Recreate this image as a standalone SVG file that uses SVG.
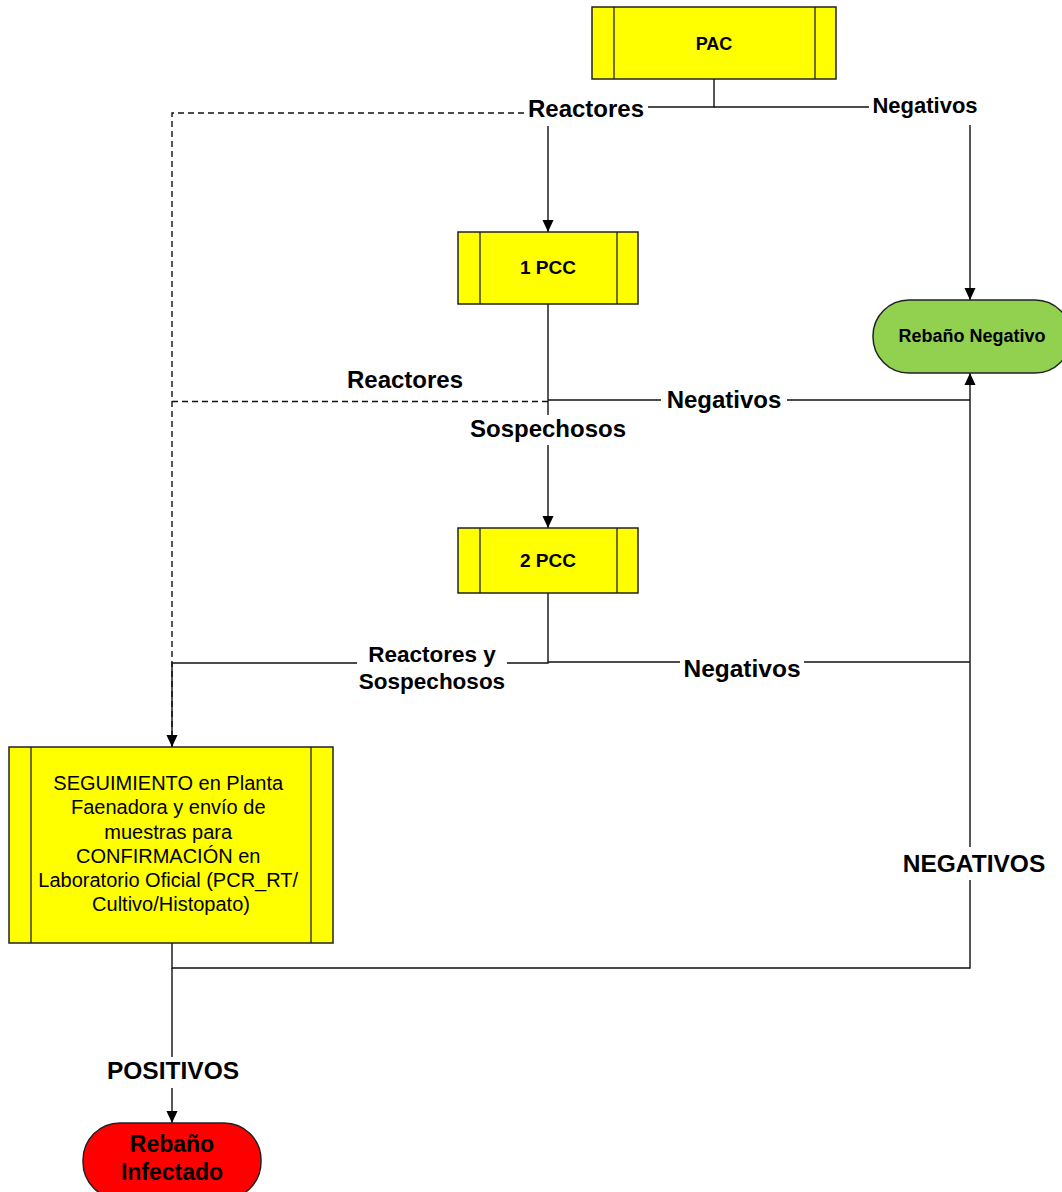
<svg xmlns="http://www.w3.org/2000/svg" width="1062" height="1192" viewBox="0 0 1062 1192">
<defs>
<marker id="arr" markerWidth="12" markerHeight="14" refX="13" refY="6" orient="auto" markerUnits="userSpaceOnUse" viewBox="0 0 13 12">
<path d="M0,0 L13,6 L0,12 z" fill="#000"/>
</marker>
<style>
.box{fill:#FFFF00;stroke:#222;stroke-width:1.5}
.bar{stroke:#222;stroke-width:1.3}
.ln{fill:none;stroke:#111;stroke-width:1.4}
.dash{fill:none;stroke:#111;stroke-width:1.4;stroke-dasharray:6 4}
.nt{font-family:"Liberation Sans",Arial,sans-serif;font-weight:bold;text-anchor:middle;fill:#000}
.lb{font-family:"Liberation Sans",Arial,sans-serif;font-weight:bold;text-anchor:middle;fill:#000}
.bg{fill:#fff}
</style>
</defs>
<rect width="1062" height="1192" fill="#fff"/>
<g id="connectors">
<path class="ln" d="M714,79 V107 H548 V232" marker-end="url(#arr)"/>
<path class="ln" d="M714,107 H970 V300" marker-end="url(#arr)"/>
<path class="dash" d="M524,113 H172 V747"/>
<path class="ln" d="M548,304 V528" marker-end="url(#arr)"/>
<path class="ln" d="M548,400 H970"/>
<path class="dash" d="M548,401.5 H172"/>
<path class="ln" d="M548,593 V663 H172 V747" marker-end="url(#arr)"/>
<path class="ln" d="M548,662 H970"/>
<path class="ln" d="M172,943 V968 H970 V373" marker-end="url(#arr)"/>
<path class="ln" d="M172,968 V1123" marker-end="url(#arr)"/>
<rect class="bg" x="524" y="95" width="124" height="31"/>
<text class="lb" x="586" y="117" font-size="24">Reactores</text>
<rect class="bg" x="869" y="92" width="113" height="33"/>
<text class="lb" x="925" y="113" font-size="22">Negativos</text>
<text class="lb" x="405" y="388" font-size="24">Reactores</text>
<rect class="bg" x="464" y="415" width="168" height="30"/>
<text class="lb" x="548" y="437" font-size="24">Sospechosos</text>
<rect class="bg" x="661" y="388" width="126" height="26"/>
<text class="lb" x="724" y="408" font-size="24">Negativos</text>
<rect class="bg" x="357" y="642" width="150" height="52"/>
<text class="lb" x="432" y="662" font-size="22.5">Reactores y</text>
<text class="lb" x="432" y="689" font-size="22.5">Sospechosos</text>
<rect class="bg" x="680" y="652" width="124" height="30"/>
<text class="lb" x="742" y="677" font-size="24.5">Negativos</text>
<rect class="bg" x="899" y="847" width="151" height="33"/>
<text class="lb" x="974" y="872" font-size="24.5">NEGATIVOS</text>
<rect class="bg" x="103" y="1057" width="140" height="31"/>
<text class="lb" x="173" y="1079" font-size="24.5">POSITIVOS</text>
</g>
<g id="pac">
<rect class="box" x="592" y="7" width="244" height="72"/>
<line class="bar" x1="614" y1="7" x2="614" y2="79"/>
<line class="bar" x1="815" y1="7" x2="815" y2="79"/>
<text class="nt" x="714" y="50" font-size="18">PAC</text>
</g>
<g id="pcc1">
<rect class="box" x="458" y="232" width="180" height="72"/>
<line class="bar" x1="480" y1="232" x2="480" y2="304"/>
<line class="bar" x1="617" y1="232" x2="617" y2="304"/>
<text class="nt" x="548" y="274" font-size="19">1 PCC</text>
</g>
<g id="pcc2">
<rect class="box" x="458" y="528" width="180" height="65"/>
<line class="bar" x1="480" y1="528" x2="480" y2="593"/>
<line class="bar" x1="617" y1="528" x2="617" y2="593"/>
<text class="nt" x="548" y="567" font-size="19">2 PCC</text>
</g>
<g id="rebano-negativo">
<rect x="873" y="300" width="198" height="73" rx="36" ry="36" fill="#92D050" stroke="#222" stroke-width="1.5"/>
<text class="nt" x="972" y="342" font-size="18">Rebaño Negativo</text>
</g>
<g id="seguimiento">
<rect class="box" x="9" y="747" width="324" height="196"/>
<line class="bar" x1="31" y1="747" x2="31" y2="943"/>
<line class="bar" x1="311" y1="747" x2="311" y2="943"/>
<text font-family="'Liberation Sans',Arial,sans-serif" font-size="20" text-anchor="middle" fill="#000">
<tspan x="171" y="789.5">SEGUIMIENTO en Planta</tspan>
<tspan x="171" y="814">Faenadora y envío de</tspan>
<tspan x="171" y="838.5">muestras para</tspan>
<tspan x="171" y="862.5">CONFIRMACIÓN en</tspan>
<tspan x="171" y="887">Laboratorio Oficial (PCR_RT/</tspan>
<tspan x="171" y="911">Cultivo/Histopato)</tspan>
</text>
</g>
<g id="rebano-infectado">
<rect x="83" y="1123" width="178" height="76" rx="37" ry="37" fill="#FF0000" stroke="#222" stroke-width="1.5"/>
<text class="nt" x="172" y="1152" font-size="23">Rebaño</text>
<text class="nt" x="172" y="1180" font-size="23">Infectado</text>
</g>
</svg>
